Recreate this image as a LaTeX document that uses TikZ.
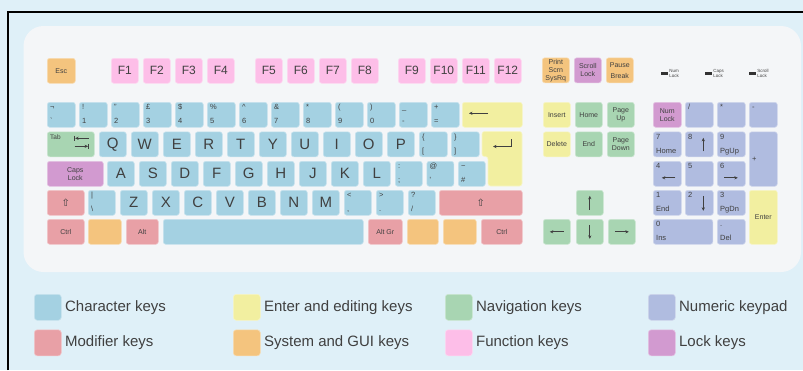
\documentclass[tikz,border=0pt]{standalone}
\usepackage{fontspec}
\setmainfont{Liberation Sans}
\newfontfamily\symfont{DejaVu Sans}
\usepackage{tikz}
\usetikzlibrary{arrows.meta}
\usetikzlibrary{calc}
\definecolor{bgcol}{RGB}{223, 240, 248}
\definecolor{panelcol}{RGB}{244, 246, 248}
\definecolor{chrcol}{RGB}{164, 209, 226}
\definecolor{edtcol}{RGB}{242, 239, 160}
\definecolor{navcol}{RGB}{168, 213, 178}
\definecolor{numcol}{RGB}{176, 188, 224}
\definecolor{modcol}{RGB}{232, 160, 166}
\definecolor{syscol}{RGB}{244, 196, 126}
\definecolor{fncol}{RGB}{253, 190, 232}
\definecolor{lckcol}{RGB}{210, 154, 208}
\definecolor{keytxt}{RGB}{64, 64, 64}
\definecolor{ledcol}{RGB}{50, 50, 50}
\tikzset{
	fillkey/.style={fill=#1, draw=#1!60!white, line width=0.6pt},
	chr/.style={fillkey=chrcol}, edt/.style={fillkey=edtcol},
	nav/.style={fillkey=navcol}, num/.style={fillkey=numcol},
	mods/.style={fillkey=modcol}, sys/.style={fillkey=syscol},
	fnk/.style={fillkey=fncol}, lck/.style={fillkey=lckcol},
	keycap/.style={rounded corners=2.5pt, minimum height=25, inner sep=0.5pt, align=center, text=keytxt, font=\fontsize{7}{8}\selectfont},
	keylab/.style={text=keytxt, font=\fontsize{7.5}{8}\selectfont, inner xsep=3pt, inner ysep=2pt, text height=5.5pt, text depth=1.5pt},
	big/.style={font=\fontsize{15}{15}\selectfont},
	fkey/.style={font=\fontsize{12}{12}\selectfont},
	kbarrow/.style={-{Stealth[length=3.5pt,width=3.2pt]}, line width=0.7pt, draw=keytxt},
	swatch/.style={rounded corners=3pt, minimum width=27, minimum height=26, anchor=north west, inner sep=0pt, label distance=2.5pt},
	legtxt/.style={text=keytxt, font=\fontsize{15}{15}\selectfont},
	led/.style={fill=ledcol, minimum width=7, minimum height=3.5, inner sep=0pt},
	ledlab/.style={font=\fontsize{4.5}{5.5}\selectfont, align=left, text=keytxt, inner sep=1pt}
}
\newcommand{\kcap}[6][chr]{% [style]{name}{x}{y}{width}{label}
	\node[keycap, #1, minimum width=#5, anchor=north west] (#2) at (#3,#4) {#6};%
}
\newcommand{\dcap}[6][chr]{% [style]{name}{x}{y}{upper}{lower}
	\node[keycap, minimum width=28, #1, anchor=north west,
		label={[keylab, anchor=north west]north west:{#5}},
		label={[keylab, anchor=south west]south west:{#6}}] (#2) at (#3,#4) {};%
}
\newcommand{\shiftsym}{{\symfont\fontsize{10}{10}\selectfont ⇧}}

\begin{document}
\begin{tikzpicture}[x=1pt, y=-1pt]
	\fill[bgcol] (0,0) rectangle (803,370);
	\useasboundingbox (0,0) rectangle (803,370);
	\draw[line width=1.8pt] (8.2,370) -- (8.2,11.8) -- (803,11.8);
	\fill[panelcol, rounded corners=20pt] (23.5,26) rectangle (801,272);

	% function row
	\kcap[sys]{esc}{47}{58}{28}{Esc}
	\kcap[fnk, fkey]{f1}{111}{58}{27}{F1}
	\kcap[fnk, fkey]{f2}{143}{58}{27}{F2}
	\kcap[fnk, fkey]{f3}{175}{58}{27}{F3}
	\kcap[fnk, fkey]{f4}{207}{58}{27}{F4}
	\kcap[fnk, fkey]{f5}{255}{58}{27}{F5}
	\kcap[fnk, fkey]{f6}{287}{58}{27}{F6}
	\kcap[fnk, fkey]{f7}{319}{58}{27}{F7}
	\kcap[fnk, fkey]{f8}{351}{58}{27}{F8}
	\kcap[fnk, fkey]{f9}{398}{58}{27}{F9}
	\kcap[fnk, fkey]{f10}{430}{58}{27}{F10}
	\kcap[fnk, fkey]{f11}{462}{58}{27}{F11}
	\kcap[fnk, fkey]{f12}{494}{58}{27}{F12}
	\kcap[sys, inner sep=0pt]{prtsc}{542}{57.5}{27}{Print\\Scrn\\SysRq}
	\kcap[lck]{scrlk}{574}{57.5}{27}{Scroll\\Lock}
	\kcap[sys]{pause}{606}{57.5}{27}{Pause\\[3pt]Break}

	% lock lights
	\node[led, label={[ledlab]right:Num\\Lock}] (led-num) at (664.5,73.5) {};
	\node[led, label={[ledlab]right:Caps\\Lock}] (led-caps) at (708.5,73.5) {};
	\node[led, label={[ledlab]right:Scroll\\Lock}] (led-scr) at (752.5,73.5) {};

	% number row
	\dcap{kgrave}{47}{102}{¬}{\textasciigrave}
	\dcap{k1}{79}{102}{!}{1}
	\dcap{k2}{111}{102}{"}{2}
	\dcap{k3}{143}{102}{£}{3}
	\dcap{k4}{175}{102}{\$}{4}
	\dcap{k5}{207}{102}{\%}{5}
	\dcap{k6}{239}{102}{\textasciicircum}{6}
	\dcap{k7}{271}{102}{\&}{7}
	\dcap{k8}{303}{102}{*}{8}
	\dcap{k9}{335}{102}{(}{9}
	\dcap{k0}{367}{102}{)}{0}
	\dcap{kminus}{399}{102}{\_}{-}
	\dcap{kequal}{431}{102}{+}{=}
	\kcap[edt]{bksp}{462}{102}{60}{}
	\draw[kbarrow] ($(bksp.west)+(26,-1.5)$) -- ($(bksp.west)+(7,-1.5)$);

	% top letter row
	\kcap[nav]{tab}{47}{131.5}{47}{}
	\node[keylab, anchor=north west, font=\fontsize{6.5}{7}\selectfont] (tab-txt) at (tab.north west) {Tab};
	\draw[kbarrow] ($(tab.east)+(-6,-6)$) -- ($(tab.east)+(-19.5,-6)$);
	\draw[line width=0.7pt, keytxt] ($(tab.east)+(-20,-8.5)$) -- ($(tab.east)+(-20,-3.5)$);
	\draw[kbarrow] ($(tab.east)+(-20,2)$) -- ($(tab.east)+(-6.5,2)$);
	\draw[line width=0.7pt, keytxt] ($(tab.east)+(-6,-0.5)$) -- ($(tab.east)+(-6,4.5)$);
	\kcap[chr, big]{kq}{99}{131.5}{27}{Q}
	\kcap[chr, big]{kw}{131}{131.5}{27}{W}
	\kcap[chr, big]{ke}{163}{131.5}{27}{E}
	\kcap[chr, big]{kr}{195}{131.5}{27}{R}
	\kcap[chr, big]{kt}{227}{131.5}{27}{T}
	\kcap[chr, big]{ky}{259}{131.5}{27}{Y}
	\kcap[chr, big]{ku}{291}{131.5}{27}{U}
	\kcap[chr, big]{ki}{323}{131.5}{27}{I}
	\kcap[chr, big]{ko}{355}{131.5}{27}{O}
	\kcap[chr, big]{kp}{387}{131.5}{27}{P}
	\dcap{klbrack}{419}{131.5}{\{}{[}
	\dcap{krbrack}{451}{131.5}{\}}{]}
	\draw[edt, rounded corners=2.5pt] (482,131.5) -- (522,131.5) -- (522,186) -- (488,186) -- (488,156.5) -- (482,156.5) -- cycle;
	\draw[kbarrow] (511,139) -- (511,146.5) -- (493,146.5);

	% home row
	\kcap[lck]{caps}{47}{161}{56}{Caps\\Lock}
	\kcap[chr, big]{ka}{107}{161}{27}{A}
	\kcap[chr, big]{ks}{139}{161}{27}{S}
	\kcap[chr, big]{kd}{171}{161}{27}{D}
	\kcap[chr, big]{kf}{203}{161}{27}{F}
	\kcap[chr, big]{kg}{235}{161}{27}{G}
	\kcap[chr, big]{kh}{267}{161}{27}{H}
	\kcap[chr, big]{kj}{299}{161}{27}{J}
	\kcap[chr, big]{kk}{331}{161}{27}{K}
	\kcap[chr, big]{kl}{363}{161}{27}{L}
	\dcap[chr, minimum width=27]{ksemi}{395}{161}{:}{;}
	\dcap[chr, minimum width=27]{kquote}{426.5}{161}{@}{\textquotesingle}
	\dcap[chr, minimum width=27]{khash}{458}{161}{\textasciitilde}{\#}

	% bottom letter row
	\kcap[mods]{lshift}{47}{190}{37}{\shiftsym}
	\dcap[chr, minimum width=27]{kbslash}{88}{190}{|}{\textbackslash}
	\kcap[chr, big]{kz}{120}{190}{27}{Z}
	\kcap[chr, big]{kx}{152}{190}{27}{X}
	\kcap[chr, big]{kc}{184}{190}{27}{C}
	\kcap[chr, big]{kv}{216}{190}{27}{V}
	\kcap[chr, big]{kb}{248}{190}{27}{B}
	\kcap[chr, big]{kn}{280}{190}{27}{N}
	\kcap[chr, big]{km}{312}{190}{27}{M}
	\dcap[chr, minimum width=27]{kcomma}{344}{190}{<}{,}
	\dcap[chr, minimum width=27]{kdot}{376}{190}{>}{.}
	\dcap[chr, minimum width=27]{kslash}{408}{190}{?}{/}
	\kcap[mods]{rshift}{439}{190}{83}{\shiftsym}

	% space row
	\kcap[mods]{lctrl}{47}{219}{37}{Ctrl}
	\kcap[sys]{lwin}{88}{219}{33}{}
	\kcap[mods]{lalt}{126}{219}{32}{Alt}
	\kcap[chr]{space}{163}{219}{200}{}
	\kcap[mods]{altgr}{368}{219}{34}{Alt Gr}
	\kcap[sys]{rwin}{407}{219}{31}{}
	\kcap[sys]{menu}{443}{219}{33}{}
	\kcap[mods]{rctrl}{481}{219}{41}{Ctrl}

	% editing and navigation block
	\kcap[edt]{ins}{543}{102}{27}{Insert}
	\kcap[nav]{home}{575}{102}{27}{Home}
	\kcap[nav]{pgup}{607}{102}{27}{Page\\Up}
	\kcap[edt]{del}{543}{131.5}{27}{Delete}
	\kcap[nav]{end}{575}{131.5}{27}{End}
	\kcap[nav]{pgdn}{607}{131.5}{27}{Page\\Down}
	\kcap[nav]{up}{576}{190}{27}{}
	\kcap[nav]{left}{543}{219}{27}{}
	\kcap[nav]{down}{576}{219}{27}{}
	\kcap[nav]{right}{608}{219}{27}{}
	\draw[kbarrow] ($(up.center)+(0,7)$) -- ($(up.center)+(0,-7)$);
	\draw[kbarrow] ($(left.center)+(7,0)$) -- ($(left.center)+(-7,0)$);
	\draw[kbarrow] ($(down.center)+(0,-7)$) -- ($(down.center)+(0,7)$);
	\draw[kbarrow] ($(right.center)+(-7,0)$) -- ($(right.center)+(7,0)$);

	% numeric keypad
	\kcap[lck]{numlk}{653}{102}{28}{Num\\Lock}
	\dcap[num]{kpdiv}{685}{102}{/}{}
	\dcap[num]{kpmul}{717}{102}{*}{}
	\dcap[num]{kpsub}{749}{102}{-}{}
	\dcap[num]{kp7}{653}{131.5}{7}{Home}
	\dcap[num]{kp8}{685}{131.5}{8}{}
	\dcap[num]{kp9}{717}{131.5}{9}{PgUp}
	\kcap[num, minimum height=54.5, label={[keylab, anchor=west]west:+}]{kpadd}{749}{131.5}{28}{}
	\dcap[num]{kp4}{653}{161}{4}{}
	\dcap[num]{kp5}{685}{161}{5}{}
	\dcap[num]{kp6}{717}{161}{6}{}
	\dcap[num]{kp1}{653}{190}{1}{End}
	\dcap[num]{kp2}{685}{190}{2}{}
	\dcap[num]{kp3}{717}{190}{3}{PgDn}
	\kcap[edt, minimum height=54]{kpent}{749}{190}{28}{Enter}
	\dcap[num, minimum width=59.5]{kp0}{653}{219}{0}{Ins}
	\dcap[num]{kpdot}{717}{219}{.}{Del}
	\draw[kbarrow] ($(kp8.center)+(4,7)$) -- ($(kp8.center)+(4,-6.5)$);
	\draw[kbarrow] ($(kp2.center)+(4,-7)$) -- ($(kp2.center)+(4,8)$);
	\draw[kbarrow] ($(kp4.center)+(8,4)$) -- ($(kp4.center)+(-5.5,4)$);
	\draw[kbarrow] ($(kp6.center)+(-7,4)$) -- ($(kp6.center)+(6.5,4)$);

	% legend
	\node[swatch, chr, label={[legtxt]right:Character keys}] (lg-chr) at (34,294) {};
	\node[swatch, mods, label={[legtxt]right:Modifier keys}] (lg-mod) at (34,329.5) {};
	\node[swatch, edt, label={[legtxt]right:Enter and editing keys}] (lg-edt) at (233,294) {};
	\node[swatch, sys, label={[legtxt]right:System and GUI keys}] (lg-sys) at (233,329.5) {};
	\node[swatch, nav, label={[legtxt]right:Navigation keys}] (lg-nav) at (445,294) {};
	\node[swatch, fnk, label={[legtxt]right:Function keys}] (lg-fn) at (445,329.5) {};
	\node[swatch, num, label={[legtxt]right:Numeric keypad}] (lg-num) at (648,294) {};
	\node[swatch, lck, label={[legtxt]right:Lock keys}] (lg-lck) at (648,329.5) {};
\end{tikzpicture}
\end{document}
